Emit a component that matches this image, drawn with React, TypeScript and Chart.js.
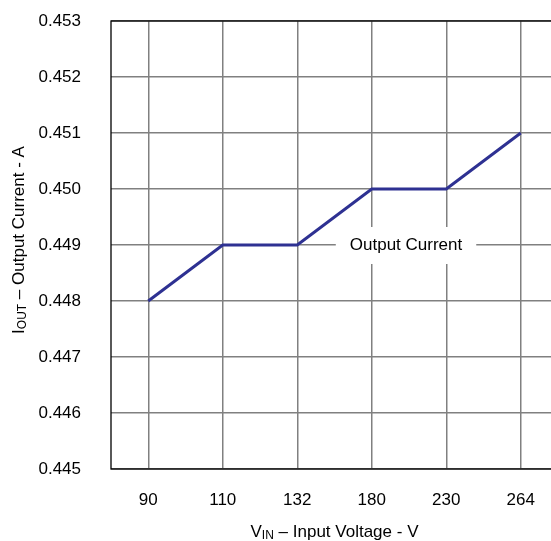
import React, { useEffect, useRef } from "react";
import { Chart, registerables } from "chart.js";

Chart.register(...registerables);

// Input voltage categories (V) and measured output current (A)
const inputVoltages = ["90", "110", "132", "180", "230", "264"];
const outputCurrent = [0.448, 0.449, 0.449, 0.45, 0.45, 0.451];
const yTicks = [0.445, 0.446, 0.447, 0.448, 0.449, 0.45, 0.451, 0.452, 0.453];

const seriesLabel = "Output Current";
const xTitle = [
  { text: "V", sub: false },
  { text: "IN", sub: true },
  { text: " \u2013 Input Voltage - V", sub: false },
];
const yTitle = [
  { text: "I", sub: false },
  { text: "OUT", sub: true },
  { text: " \u2013 Output Current - A", sub: false },
];

const FONT = "'Liberation Sans', Arial, Helvetica, sans-serif";
const MAIN_SIZE = 17;
const SUB_SIZE = 12;

type Part = { text: string; sub: boolean };

function drawRichText(ctx: CanvasRenderingContext2D, parts: Part[], cx: number, cy: number, rotate: boolean) {
  ctx.save();
  ctx.translate(cx, cy);
  if (rotate) ctx.rotate(-Math.PI / 2);
  ctx.textBaseline = "middle";
  ctx.textAlign = "left";
  ctx.fillStyle = "#000";
  let total = 0;
  for (const p of parts) {
    ctx.font = `${p.sub ? SUB_SIZE : MAIN_SIZE}px ${FONT}`;
    total += ctx.measureText(p.text).width;
  }
  let x = -total / 2;
  for (const p of parts) {
    ctx.font = `${p.sub ? SUB_SIZE : MAIN_SIZE}px ${FONT}`;
    ctx.fillText(p.text, x, p.sub ? 4 : 0);
    x += ctx.measureText(p.text).width;
  }
  ctx.restore();
}

const decorations = {
  id: "decorations",
  beforeDatasetsDraw(chart: any) {
    const { ctx, scales, chartArea } = chart;
    const xs = scales.x;
    const ys = scales.y;
    // Label box sitting on the 0.449 grid line, between 180 V and 230 V
    const step = xs.getPixelForValue(1) - xs.getPixelForValue(0);
    const cx = xs.getPixelForValue(3) + step * 0.46;
    const cy = ys.getPixelForValue(0.449);
    ctx.save();
    ctx.font = `${MAIN_SIZE}px ${FONT}`;
    const w = ctx.measureText(seriesLabel).width;
    ctx.fillStyle = "#fff";
    ctx.fillRect(cx - w / 2 - 14, cy - 18, w + 28, 37);
    ctx.fillStyle = "#000";
    ctx.textAlign = "center";
    ctx.textBaseline = "middle";
    ctx.fillText(seriesLabel, cx, cy);
    ctx.restore();

    // Black frame on top of the grey grid
    ctx.save();
    ctx.strokeStyle = "#000";
    ctx.lineWidth = 1.3;
    ctx.strokeRect(chartArea.left, chartArea.top, chartArea.right - chartArea.left, chartArea.bottom - chartArea.top);
    ctx.restore();
  },
  afterDraw(chart: any) {
    const { ctx, chartArea } = chart;
    drawRichText(ctx, xTitle, (chartArea.left + chartArea.right) / 2, 532, false);
    drawRichText(ctx, yTitle, 19, (chartArea.top + chartArea.bottom) / 2 - 5, true);
  },
};

export default function App() {
  const canvasRef = useRef<HTMLCanvasElement | null>(null);

  useEffect(() => {
    const canvas = canvasRef.current;
    if (!canvas) return;
    const chart = new Chart(canvas, {
      type: "line",
      data: {
        labels: inputVoltages,
        datasets: [
          {
            label: seriesLabel,
            data: outputCurrent,
            borderColor: "#2E3192",
            borderWidth: 3,
            pointRadius: 0,
            tension: 0,
            fill: false,
          },
        ],
      },
      options: {
        animation: false,
        responsive: false,
        maintainAspectRatio: false,
        layout: { padding: { top: 21, right: 2, left: 0, bottom: 0 } },
        plugins: {
          legend: { display: false },
          tooltip: { enabled: false },
          title: { display: false },
        },
        scales: {
          x: {
            type: "category",
            offset: true,
            grid: {
              color: "#808080",
              lineWidth: 1.5,
              drawTicks: false,
              offset: false,
            },
            border: { display: false },
            ticks: {
              color: "#000",
              padding: 21,
              maxRotation: 0,
              font: { family: FONT, size: MAIN_SIZE },
            },
            afterFit(scale: any) {
              scale.height = 72;
              scale.paddingLeft = 0;
              scale.paddingRight = 0;
            },
          },
          y: {
            type: "linear",
            min: 0.445,
            max: 0.453,
            afterBuildTicks(scale: any) {
              scale.ticks = yTicks.map((v) => ({ value: v }));
            },
            grid: {
              color: "#808080",
              lineWidth: 1.5,
              drawTicks: false,
            },
            border: { display: false },
            ticks: {
              color: "#000",
              padding: 30,
              font: { family: FONT, size: MAIN_SIZE },
              callback: (v: any) => Number(v).toFixed(3),
            },
            afterFit(scale: any) {
              scale.width = 111;
              scale.paddingTop = 0;
              scale.paddingBottom = 0;
            },
          },
        },
      },
      plugins: [decorations],
    });
    return () => chart.destroy();
  }, []);

  return (
    <div style={{ position: "absolute", left: 0, top: 0, width: 551, height: 541, overflow: "hidden", background: "#fff" }}>
      <canvas ref={canvasRef} width={560} height={541} style={{ display: "block" }} />
    </div>
  );
}
